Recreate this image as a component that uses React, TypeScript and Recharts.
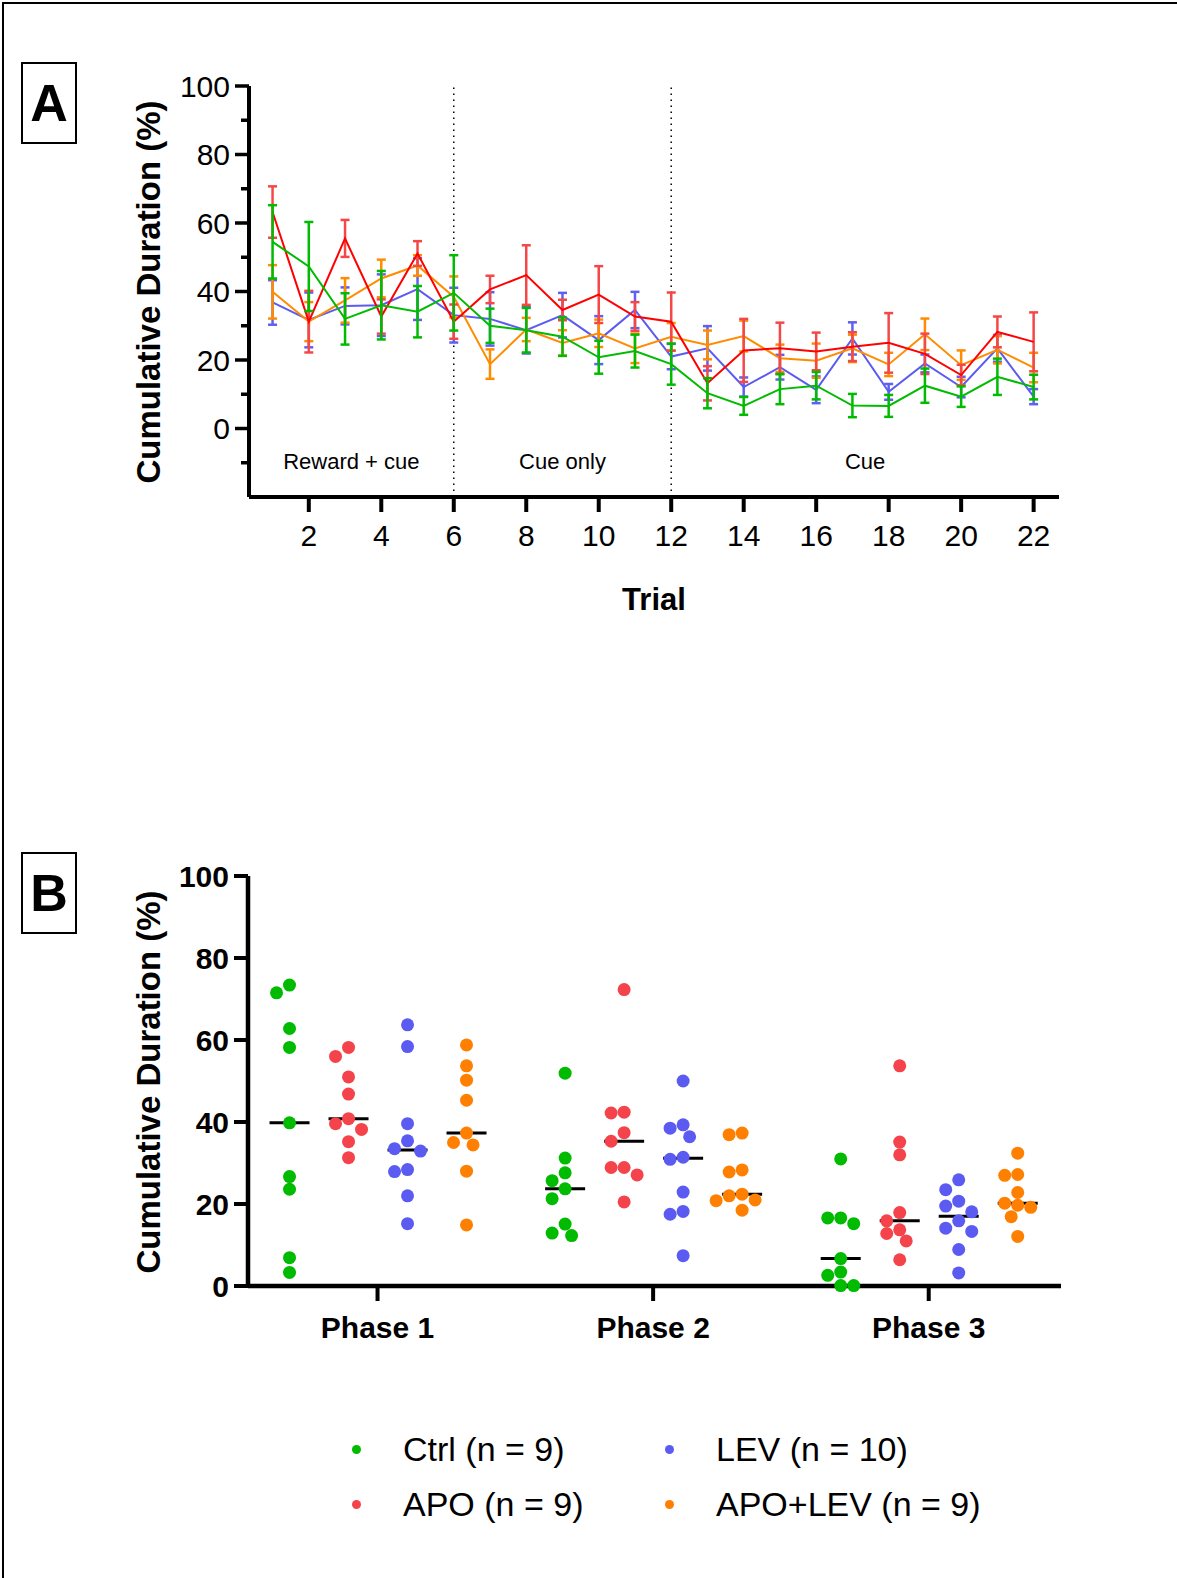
import React from "react";
import {
    LineChart,
    Line,
    XAxis,
    YAxis,
    ErrorBar,
    ReferenceLine,
    ReferenceArea,
    ScatterChart,
    Scatter,
    Label,
} from "recharts";

const FONT = "Arial, 'Liberation Sans', Helvetica, sans-serif";

// ---- Panel A: mean ± SEM per trial ----
const trials = [1, 2, 3, 4, 5, 6, 7, 8, 9, 10, 11, 12, 13, 14, 15, 16, 17, 18, 19, 20, 21, 22];

const ctrlMean = [54.5, 47.3, 32.0, 36.0, 34.1, 39.6, 30.0, 28.7, 26.8, 20.8, 22.6, 18.8, 10.3, 6.6, 11.5, 12.5, 6.7, 6.6, 12.5, 9.3, 15.1, 12.1];
const ctrlSem = [10.7, 13, 7.5, 10, 7.5, 11, 5, 6.5, 5.6, 4.8, 4.8, 6, 4.4, 2.6, 4.4, 4, 3.4, 3.2, 5, 3, 5.3, 3.6];

const apoMean = [63.2, 31.2, 55.5, 32.7, 51.1, 31.2, 40.6, 44.8, 34.6, 39.1, 32.7, 31.2, 13.2, 22.8, 23.4, 22.5, 23.9, 25.0, 21.8, 15.6, 28.2, 25.3];
const apoSem = [7.5, 9, 5.4, 5, 3.6, 5, 4, 8.7, 3, 8.3, 4.2, 8.5, 5, 9.2, 7.5, 5.5, 4.2, 8.7, 5.9, 3, 4.5, 8.6];

const levMean = [36.8, 31.7, 35.8, 36.0, 40.7, 33.1, 32.0, 28.7, 33.1, 25.8, 34.6, 21.0, 23.4, 12.1, 17.9, 11.3, 26.3, 10.7, 19.0, 12.1, 23.4, 9.3];
const levSem = [6.5, 8, 5.4, 9, 9, 8, 7.8, 6.8, 6.5, 7, 5.3, 3.7, 6.5, 2.8, 3.6, 3.9, 4.7, 2.3, 2.6, 3, 3.9, 2.2];

const apoLevMean = [39.9, 31.2, 37.4, 43.8, 47.6, 38.4, 18.8, 28.9, 25.0, 27.8, 23.4, 26.8, 24.4, 27.0, 20.5, 19.8, 23.4, 18.7, 27.5, 18.5, 23.0, 17.8];
const apoLevSem = [7.8, 5.7, 6.5, 5.5, 3, 6, 4.3, 3.4, 3.7, 4, 4.3, 4, 4.2, 4.5, 4, 5, 4, 3.4, 4.6, 4.3, 4, 4.3];

const sectionLabels = ["Reward + cue", "Cue only", "Cue"];
const sectionBreaks = [6, 12];

// ---- Panel B: individual animals per phase ----
const phases = ["Phase 1", "Phase 2", "Phase 3"];

const ctrlPts = [
    [73.4, 71.5, 62.8, 58.2, 39.8, 26.7, 23.6, 6.9, 3.3],
    [51.9, 31.2, 27.6, 25.7, 23.7, 21.3, 15.1, 12.9, 12.3],
    [31.0, 16.6, 16.6, 15.2, 6.7, 3.4, 2.6, 0.1, 0.1],
];
const apoPts = [
    [58.2, 56.0, 51.0, 46.8, 40.8, 39.6, 38.2, 35.2, 31.3],
    [72.3, 42.4, 42.2, 37.4, 35.3, 28.9, 28.9, 27.1, 20.5],
    [53.7, 35.1, 32.0, 17.9, 15.9, 13.7, 12.8, 11.0, 6.4],
];
const levPts = [
    [63.7, 58.4, 39.6, 35.4, 33.5, 32.9, 28.4, 27.9, 22.0, 15.2],
    [50.0, 39.3, 38.5, 36.4, 31.4, 30.9, 22.9, 18.2, 17.5, 7.4],
    [25.9, 23.5, 20.7, 19.5, 18.1, 15.9, 14.1, 13.3, 8.9, 3.2],
];
const apoLevPts = [
    [58.8, 53.7, 50.2, 45.3, 37.3, 35.0, 34.4, 28.0, 14.9],
    [37.3, 36.9, 28.3, 27.8, 22.4, 22.0, 21.0, 20.8, 18.5],
    [32.4, 27.2, 27.0, 22.8, 20.2, 19.7, 19.2, 16.9, 12.1],
];

const groupNames = ["Ctrl (n = 9)", "APO (n = 9)", "LEV (n = 10)", "APO+LEV (n = 9)"];
const groupColors = ["#00bb00", "#f4434a", "#5b5bf2", "#ff8000"];
const lineColors = ["#00bb00", "#ff0000", "#5b5bf2", "#ff8c00"];
const barColors = ["#00bb00", "#f44848", "#5f5ff0", "#ff8c00"];

const lineTable = trials.map((t, i) => ({
    trial: t,
    ctrl: ctrlMean[i], ctrlErr: ctrlSem[i],
    apo: apoMean[i], apoErr: apoSem[i],
    lev: levMean[i], levErr: levSem[i],
    apoLev: apoLevMean[i], apoLevErr: apoLevSem[i],
}));

// layout constants for panel B
const B_X_DOMAIN: [number, number] = [0.53, 3.48];
const B_PX_PER_X = 813 / (B_X_DOMAIN[1] - B_X_DOMAIN[0]);
const B_PX_PER_Y = 4.1;
const GROUP_SHIFT_PX = [-88, -29, 30, 89];
const MEDIAN_HALF_PX = 20;

// simple beeswarm: offsets in px so dots do not overlap
function swarm(vals: number[]): number[] {
    const D = 12.5;
    const order = vals.map((_, i) => i).sort((a, b) => vals[b] - vals[a]);
    const placed: { dx: number; py: number }[] = [];
    const out = new Array(vals.length).fill(0);
    for (const i of order) {
        const py = vals[i] * B_PX_PER_Y;
        let chosen = 0;
        for (let k = 0; k < 30; k++) {
            const dx = k === 0 ? 0 : (k % 2 ? -1 : 1) * Math.ceil(k / 2) * 6.5;
            if (placed.every((p) => Math.hypot(p.dx - dx, p.py - py) >= D)) {
                chosen = dx;
                break;
            }
        }
        placed.push({ dx: chosen, py });
        out[i] = chosen;
    }
    return out;
}

function median(vals: number[]) {
    const s = [...vals].sort((a, b) => a - b);
    const m = Math.floor(s.length / 2);
    return s.length % 2 ? s[m] : (s[m - 1] + s[m]) / 2;
}

const allGroups = [ctrlPts, apoPts, levPts, apoLevPts];

const scatterData = allGroups.map((g, gi) =>
    g.flatMap((vals, pi) => {
        const off = swarm(vals);
        const center = pi + 1 + GROUP_SHIFT_PX[gi] / B_PX_PER_X;
        return vals.map((v, k) => ({ x: center + off[k] / B_PX_PER_X, y: v }));
    })
);

const medianLines = allGroups.flatMap((g, gi) =>
    g.map((vals, pi) => {
        const c = pi + 1 + GROUP_SHIFT_PX[gi] / B_PX_PER_X;
        const h = MEDIAN_HALF_PX / B_PX_PER_X;
        return { x1: c - h, x2: c + h, y: median(vals) };
    })
);

// ---- ticks ----
const YTickA = (props: any) => {
    const { x, y, payload } = props;
    const v = payload.value;
    const major = v >= 0 && v % 20 === 0;
    const len = major ? 14 : 8;
    return (
        <g>
            <line x1={x - len} x2={x} y1={y} y2={y} stroke="#000" strokeWidth={3.5} />
            {major && (
                <text x={x - len - 5} y={y} dy="0.36em" textAnchor="end" fontSize={30} fontFamily={FONT} fill="#000">
                    {v}
                </text>
            )}
        </g>
    );
};

const XTickA = (props: any) => {
    const { x, y, payload } = props;
    return (
        <g>
            <line x1={x} x2={x} y1={y} y2={y + 15} stroke="#000" strokeWidth={4} />
            <text x={x} y={y + 38} dy="0.36em" textAnchor="middle" fontSize={30} fontFamily={FONT} fill="#000">
                {payload.value}
            </text>
        </g>
    );
};

const YTickB = (props: any) => {
    const { x, y, payload } = props;
    return (
        <g>
            <line x1={x - 14} x2={x} y1={y} y2={y} stroke="#000" strokeWidth={4} />
            <text x={x - 19} y={y} dy="0.36em" textAnchor="end" fontSize={30} fontWeight="bold" fontFamily={FONT} fill="#000">
                {payload.value}
            </text>
        </g>
    );
};

const XTickB = (props: any) => {
    const { x, y, payload } = props;
    return (
        <g>
            <line x1={x} x2={x} y1={y} y2={y + 15} stroke="#000" strokeWidth={4} />
            <text x={x} y={y + 41} dy="0.36em" textAnchor="middle" fontSize={30} fontWeight="bold" fontFamily={FONT} fill="#000">
                {phases[payload.value - 1]}
            </text>
        </g>
    );
};

const yLabel = (x: number, y: number) => () =>
    (
        <text
            x={x}
            y={y}
            transform={`rotate(-90 ${x} ${y})`}
            textAnchor="middle"
            dominantBaseline="central"
            fontSize={33}
            fontWeight="bold"
            fontFamily={FONT}
            fill="#000"
        >
            Cumulative Duration (%)
        </text>
    );

const PanelTag = ({ letter, top }: { letter: string; top: number }) => (
    <div
        style={{
            position: "absolute",
            left: 21,
            top,
            width: 56,
            height: 82,
            boxSizing: "border-box",
            border: "2.5px solid #000",
            display: "flex",
            alignItems: "center",
            justifyContent: "center",
            fontFamily: FONT,
            fontWeight: "bold",
            fontSize: 52,
            lineHeight: 1,
        }}
    >
        {letter}
    </div>
);

export default function App() {
    const A_X_DOMAIN: [number, number] = [0.35, 22.7];
    const sectionEdges = [A_X_DOMAIN[0], ...sectionBreaks, A_X_DOMAIN[1]];
    const seriesA = [
        { key: "lev", err: "levErr", c: 2 },
        { key: "apoLev", err: "apoLevErr", c: 3 },
        { key: "apo", err: "apoErr", c: 1 },
        { key: "ctrl", err: "ctrlErr", c: 0 },
    ];
    const legendPos = [
        { x: 356, y: 1449 },
        { x: 356, y: 1504 },
        { x: 669, y: 1449 },
        { x: 669, y: 1504 },
    ];

    return (
        <div style={{ position: "absolute", left: 0, top: 0, width: 1177, height: 1578, background: "#fff", overflow: "hidden", fontFamily: FONT }}>
            <div style={{ position: "absolute", left: 2, top: 2, width: 1175, height: 2, background: "#000" }} />
            <div style={{ position: "absolute", left: 2, top: 2, width: 2, height: 1576, background: "#000" }} />

            <PanelTag letter="A" top={62} />
            <PanelTag letter="B" top={852} />

            {/* Panel A */}
            <div style={{ position: "absolute", left: 0, top: 0 }}>
                <LineChart width={1177} height={650} data={lineTable} margin={{ top: 86, right: 118, bottom: 93, left: 0 }}>
                    <XAxis
                        dataKey="trial"
                        type="number"
                        domain={A_X_DOMAIN}
                        allowDataOverflow
                        ticks={trials.filter((t) => t % 2 === 0)}
                        interval={0}
                        height={60}
                        tickSize={0}
                        tickMargin={0}
                        tickLine={false}
                        tick={<XTickA />}
                        axisLine={{ stroke: "#000", strokeWidth: 4 }}
                    >
                        <Label
                            content={() => (
                                <text x={654} y={599} textAnchor="middle" dominantBaseline="central" fontSize={31} fontWeight="bold" fontFamily={FONT} fill="#000">
                                    Trial
                                </text>
                            )}
                        />
                    </XAxis>
                    <YAxis
                        type="number"
                        domain={[-20, 100]}
                        ticks={[-10, 0, 10, 20, 30, 40, 50, 60, 70, 80, 90, 100]}
                        interval={0}
                        width={249}
                        tickSize={0}
                        tickMargin={0}
                        tickLine={false}
                        tick={<YTickA />}
                        axisLine={{ stroke: "#000", strokeWidth: 4 }}
                    >
                        <Label content={yLabel(148, 292)} />
                    </YAxis>
                    {sectionBreaks.map((b) => (
                        <ReferenceLine key={b} x={b} stroke="#000" strokeWidth={1.5} strokeDasharray="1.5 4.5" />
                    ))}
                    {sectionLabels.map((s, i) => (
                        <ReferenceArea
                            key={s}
                            x1={sectionEdges[i]}
                            x2={sectionEdges[i + 1]}
                            y1={-19.1}
                            y2={0}
                            fill="none"
                            fillOpacity={0}
                            stroke="none"
                            label={{ value: s, position: "center", fontSize: 22, fontFamily: FONT, fill: "#000" }}
                        />
                    ))}
                    {seriesA.map((s) => (
                        <Line
                            key={s.key}
                            dataKey={s.key}
                            stroke={lineColors[s.c]}
                            strokeWidth={2}
                            dot={false}
                            activeDot={false}
                            isAnimationActive={false}
                        >
                            <ErrorBar dataKey={s.err} direction="y" width={4.5} strokeWidth={2.5} stroke={barColors[s.c]} />
                        </Line>
                    ))}
                </LineChart>
            </div>

            {/* Panel B */}
            <div style={{ position: "absolute", left: 0, top: 700 }}>
                <ScatterChart width={1177} height={878} margin={{ top: 176, right: 116, bottom: 232, left: 0 }}>
                    <XAxis
                        dataKey="x"
                        type="number"
                        domain={B_X_DOMAIN}
                        allowDataOverflow
                        ticks={[1, 2, 3]}
                        interval={0}
                        height={60}
                        tickSize={0}
                        tickMargin={0}
                        tickLine={false}
                        tick={<XTickB />}
                        axisLine={{ stroke: "#000", strokeWidth: 4.5 }}
                    />
                    <YAxis
                        dataKey="y"
                        type="number"
                        domain={[0, 100]}
                        ticks={[0, 20, 40, 60, 80, 100]}
                        interval={0}
                        width={248}
                        tickSize={0}
                        tickMargin={0}
                        tickLine={false}
                        tick={<YTickB />}
                        axisLine={{ stroke: "#000", strokeWidth: 4.5 }}
                    >
                        <Label content={yLabel(148, 382)} />
                    </YAxis>
                    {scatterData.map((d, gi) => (
                        <Scatter
                            key={gi}
                            data={d}
                            fill={groupColors[gi]}
                            isAnimationActive={false}
                            shape={(p: any) => <circle cx={p.cx} cy={p.cy} r={6.5} fill={groupColors[gi]} />}
                        />
                    ))}
                    {medianLines.map((m, i) => (
                        <ReferenceLine
                            key={i}
                            segment={[{ x: m.x1, y: m.y }, { x: m.x2, y: m.y }]}
                            stroke="#000"
                            strokeWidth={3}
                        />
                    ))}
                </ScatterChart>
            </div>

            {/* Legend */}
            {groupNames.map((n, i) => (
                <div key={n}>
                    <div
                        style={{
                            position: "absolute",
                            left: legendPos[i].x - 4.5,
                            top: legendPos[i].y - 4.5,
                            width: 9,
                            height: 9,
                            borderRadius: "50%",
                            background: groupColors[i],
                        }}
                    />
                    <div
                        style={{
                            position: "absolute",
                            left: legendPos[i].x + 47,
                            top: legendPos[i].y - 20,
                            height: 40,
                            lineHeight: "40px",
                            fontSize: 34,
                            whiteSpace: "nowrap",
                            color: "#000",
                        }}
                    >
                        {n}
                    </div>
                </div>
            ))}
        </div>
    );
}
